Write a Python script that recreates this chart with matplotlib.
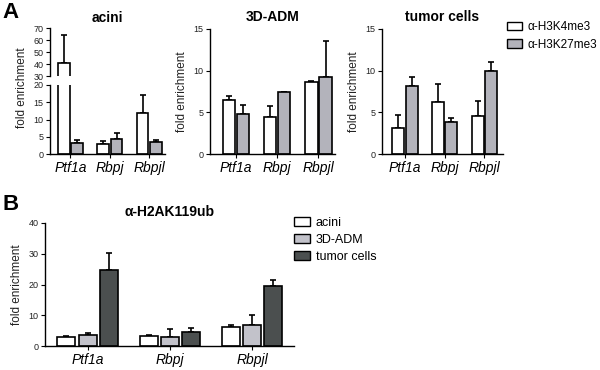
import matplotlib.pyplot as plt
from matplotlib.patches import Patch
import numpy as np

genes = ["Ptf1a", "Rbpj", "Rbpjl"]

# panel A: H3K4me3 (white) / H3K27me3 (grey), mean and upper error
acini_k4 = [41.0, 3.0, 12.0]
acini_k4_err = [23.0, 0.8, 5.0]
acini_k27 = [3.3, 4.4, 3.4]
acini_k27_err = [0.7, 1.6, 0.6]

adm_k4 = [6.5, 4.4, 8.6]
adm_k4_err = [0.5, 1.4, 0.2]
adm_k27 = [4.8, 7.4, 9.2]
adm_k27_err = [1.1, 0.1, 4.3]

tumor_k4 = [3.1, 6.2, 4.6]
tumor_k4_err = [1.6, 2.2, 1.8]
tumor_k27 = [8.2, 3.9, 9.9]
tumor_k27_err = [1.1, 0.4, 1.1]

# panel B: H2AK119ub
b_acini = [2.8, 3.4, 6.1]
b_acini_err = [0.6, 0.3, 0.7]
b_adm = [3.5, 2.9, 6.8]
b_adm_err = [0.8, 2.5, 3.4]
b_tumor = [24.8, 4.6, 19.6]
b_tumor_err = [5.3, 1.3, 1.8]

W, H = 600, 370
WHITE = "#ffffff"
GREY_A = "#b3b3bb"
GREY_B = "#c2c2ca"
DARK = "#4b4f4f"
TXT = "#222222"

plt.rcParams["font.family"] = ["Liberation Sans", "DejaVu Sans"]

fig = plt.figure(figsize=(6, 3.7), dpi=100)


def px_axes(x0, y0, x1, y1):
    return fig.add_axes([x0 / W, 1 - y1 / H, (x1 - x0) / W, (y1 - y0) / H])


def style(ax, bottom=True):
    for s in ["top", "right"]:
        ax.spines[s].set_visible(False)
    ax.spines["left"].set_linewidth(1.0)
    ax.spines["bottom"].set_linewidth(1.0)
    ax.spines["bottom"].set_visible(bottom)
    ax.tick_params(axis="y", labelsize=6.5, length=3, width=0.8, pad=1.5, colors="black", labelcolor=TXT)
    ax.tick_params(axis="x", labelsize=10, length=3, width=0.8, pad=2)
    if bottom:
        ax.set_xticks(range(len(genes)))
        ax.set_xticklabels(genes, style="italic")
    else:
        ax.set_xticks([])


def bars(ax, x, vals, errs, color, width):
    ax.bar(x, vals, width, color=color, edgecolor="black", linewidth=1.2, zorder=2)
    ax.errorbar(x, vals, yerr=[np.zeros(len(vals)), errs], fmt="none",
                ecolor="black", elinewidth=1.2, capsize=2.5, capthick=1.2, zorder=1)


x = np.arange(len(genes))
bw = 0.3
off = 0.17

# acini with broken axis
ax_up = px_axes(50, 28, 165, 76)
ax_lo = px_axes(50, 85, 165, 154)
for ax in (ax_up, ax_lo):
    bars(ax, x - off, acini_k4, acini_k4_err, WHITE, bw)
    bars(ax, x + off, acini_k27, acini_k27_err, GREY_A, bw)
    ax.set_xlim(-0.52, 2.4)
style(ax_up, bottom=False)
style(ax_lo)
ax_up.set_ylim(30, 70)
ax_up.set_yticks([30, 40, 50, 60, 70])
ax_lo.set_ylim(0, 20)
ax_lo.set_yticks([0, 5, 10, 15, 20])
ax_up.set_title("acini", fontsize=10, fontweight="bold", pad=4)
fig.text(22 / W, 1 - 88 / H, "fold enrichment", rotation=90, fontsize=8.5,
         ha="center", va="center", color=TXT)

# 3D-ADM and tumor cells
for (x0, x1, left, right, title, k4, k4e, k27, k27e) in [
    (210, 335, -0.63, 2.4, "3D-ADM", adm_k4, adm_k4_err, adm_k27, adm_k27_err),
    (382, 503, -0.58, 2.47, "tumor cells", tumor_k4, tumor_k4_err, tumor_k27, tumor_k27_err),
]:
    ax = px_axes(x0, 29, x1, 154)
    bars(ax, x - off, k4, k4e, WHITE, bw)
    bars(ax, x + off, k27, k27e, GREY_A, bw)
    ax.set_xlim(left, right)
    ax.set_ylim(0, 15)
    ax.set_yticks([0, 5, 10, 15])
    style(ax)
    ax.set_title(title, fontsize=10, fontweight="bold", pad=6)
    ax.set_ylabel("fold enrichment", fontsize=8.5, color=TXT, labelpad=4)

handles = [Patch(facecolor=WHITE, edgecolor="black", linewidth=1.0),
           Patch(facecolor=GREY_A, edgecolor="black", linewidth=1.0)]
fig.legend(handles, ["α-H3K4me3", "α-H3K27me3"], loc="upper left",
           bbox_to_anchor=(507 / W, 1 - 21 / H), frameon=False, fontsize=8.5,
           handlelength=1.3, handleheight=0.75, handletextpad=0.45, labelspacing=0.5,
           borderaxespad=0, borderpad=0)

# panel B
axb = px_axes(45, 223, 294, 346)
bwb = 0.22
offb = 0.26
bars(axb, x - offb, b_acini, b_acini_err, WHITE, bwb)
bars(axb, x, b_adm, b_adm_err, GREY_B, bwb)
bars(axb, x + offb, b_tumor, b_tumor_err, DARK, bwb)
axb.set_xlim(-0.52, 2.51)
axb.set_ylim(0, 40)
axb.set_yticks([0, 10, 20, 30, 40])
style(axb)
axb.set_ylabel("fold enrichment", fontsize=8.5, color=TXT, labelpad=4)
axb.set_title("α-H2AK119ub", fontsize=10, fontweight="bold", pad=5)
hb = [Patch(facecolor=c, edgecolor="black", linewidth=1.0) for c in (WHITE, GREY_B, DARK)]
fig.legend(hb, ["acini", "3D-ADM", "tumor cells"], loc="upper left",
           bbox_to_anchor=(294 / W, 1 - 217 / H), frameon=False, fontsize=9,
           handlelength=1.3, handleheight=0.75, handletextpad=0.45, labelspacing=0.4,
           borderaxespad=0, borderpad=0)

fig.text(2 / W, 1 - 2 / H, "A", fontsize=16, fontweight="bold", ha="left", va="top")
fig.text(2 / W, 1 - 194 / H, "B", fontsize=16, fontweight="bold", ha="left", va="top")

fig.savefig("out.png", dpi=100)
